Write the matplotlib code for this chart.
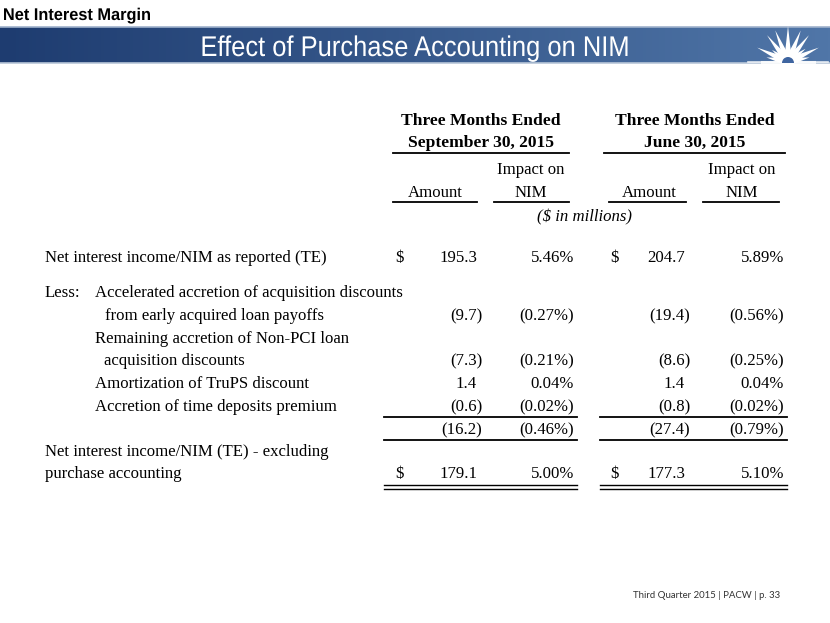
import numpy as np
import matplotlib
matplotlib.use("Agg")
import matplotlib.pyplot as plt
from matplotlib.patches import Polygon, Wedge, PathPatch
from matplotlib.textpath import TextPath
from matplotlib.font_manager import FontProperties
from matplotlib.transforms import Affine2D

# table data ($ in millions, NIM in %)
row_labels = [
    "Net interest income/NIM as reported (TE)",
    "from early acquired loan payoffs",
    "acquisition discounts",
    "Amortization of TruPS discount",
    "Accretion of time deposits premium",
    "",
    "purchase accounting",
]
sep_amount = [195.3, -9.7, -7.3, 1.4, -0.6, -16.2, 179.1]
sep_nim = [5.46, -0.27, -0.21, 0.04, -0.02, -0.46, 5.00]
jun_amount = [204.7, -19.4, -8.6, 1.4, -0.8, -27.4, 177.3]
jun_nim = [5.89, -0.56, -0.25, 0.04, -0.02, -0.79, 5.10]
dollar_rows = [0, 6]

W, H = 830, 623
fig = plt.figure(figsize=(W / 100, H / 100), dpi=100)
ax = fig.add_axes([0, 0, 1, 1])
ax.set_xlim(0, W)
ax.set_ylim(H, 0)
ax.axis("off")

SERIF = ["Liberation Serif", "DejaVu Serif"]


def narrow_text(s, x, baseline, size, width, color, weight="normal", anchor="left", z=3):
    # sans text squeezed to a given width (no narrow font installed)
    prop = FontProperties(family="Liberation Sans", weight=weight)
    tp = TextPath((0, 0), s, size=size, prop=prop)
    ext = tp.get_extents()
    sx = width / ext.width
    x0 = x - ext.x0 * sx if anchor == "left" else x - (ext.x0 + ext.width / 2) * sx
    tr = Affine2D().scale(sx, -1).translate(x0, baseline)
    ax.add_patch(PathPatch(tr.transform_path(tp), fc=color, ec="none", zorder=z))


# slide header
narrow_text("Net Interest Margin", 4, 20, 17, 146, "black", weight="bold")

# banner gradient
c0 = np.array([30, 60, 112]) / 255
c1 = np.array([80, 118, 168]) / 255
t = np.linspace(0, 1, 256)
grad = (c0[None, :] * (1 - t[:, None]) + c1[None, :] * t[:, None])[None, :, :]
ax.imshow(grad, extent=(0, W, 63, 27), aspect="auto", zorder=1)
ax.plot([0, W], [27, 27], color="#9fb2cc", lw=1.2, zorder=2)
ax.plot([0, W], [63, 63], color="#b8c6d8", lw=1.2, zorder=2)
narrow_text("Effect of Purchase Accounting on NIM", 415, 56, 28.5, 425, "white",
            anchor="center")

# logo starburst
cx, cy = 788, 62
angles = [168, 155, 143, 128, 112, 90, 68, 52, 37, 25, 12]
lengths = [22, 34, 20, 34, 34, 36, 34, 34, 22, 34, 22]
for a, L in zip(angles, lengths):
    r = np.deg2rad(a)
    ux, uy = np.cos(r), -np.sin(r)
    px, py = -uy, ux
    w = 4.0
    pts = [(cx + px * w, cy + py * w), (cx - px * w, cy - py * w),
           (cx + ux * L, cy + uy * L)]
    ax.add_patch(Polygon(pts, closed=True, fc="white", ec="none", zorder=4))
ax.add_patch(Wedge((cx, cy), 11, 180, 360, fc="white", ec="none", zorder=4))
ax.add_patch(Wedge((cx, cy + 1), 6, 180, 360, fc="#3f65a0", ec="none", zorder=5))
for i, (x0, x1) in enumerate([(748, 828), (762, 814)]):
    ax.plot([x0, x1], [cy, cy], color="white", lw=1.2 + i, alpha=0.85, zorder=4)

# column headers
hdr = dict(family=SERIF, fontweight="bold", fontsize=12.6, ha="center", va="center")
ax.text(481, 121, "Three Months Ended", **hdr)
ax.text(481, 143, "September 30, 2015", **hdr)
ax.text(695, 121, "Three Months Ended", **hdr)
ax.text(695, 143, "June 30, 2015", **hdr)
ax.plot([393, 569], [153, 153], color="black", lw=1.3)
ax.plot([604, 785], [153, 153], color="black", lw=1.3)

body = dict(family=SERIF, fontsize=12.1, va="center", color="black")
ax.text(435, 193, "Amount", ha="center", **body)
ax.text(531, 170, "Impact on", ha="center", **body)
ax.text(531, 193, "NIM", ha="center", **body)
ax.text(649, 193, "Amount", ha="center", **body)
ax.text(742, 170, "Impact on", ha="center", **body)
ax.text(742, 193, "NIM", ha="center", **body)
for x0, x1 in [(393, 477), (494, 569), (609, 686), (703, 779)]:
    ax.plot([x0, x1], [202, 202], color="black", lw=1.3)
ax.text(584, 217, "($ in millions)", ha="center", style="italic", **body)

# row labels
row_y = [258, 316, 361, 384, 407, 430, 474]
ax.text(45, 293, "Less:", ha="left", **body)
ax.text(95, 293, "Accelerated accretion of acquisition discounts", ha="left", **body)
ax.text(95, 339, "Remaining accretion of Non-PCI loan", ha="left", **body)
ax.text(45, 452, "Net interest income/NIM (TE) - excluding", ha="left", **body)
label_x = [45, 105, 104, 95, 95, 45, 45]
for lab, x, y in zip(row_labels, label_x, row_y):
    if lab:
        ax.text(x, y, lab, ha="left", **body)


def fmt_amt(v):
    return f"({abs(v):.1f})" if v < 0 else f"{v:.1f}"


def fmt_pct(v):
    return f"({abs(v):.2f}%)" if v < 0 else f"{v:.2f}%"


groups = [(sep_amount, sep_nim, 395, 477, 574),
          (jun_amount, jun_nim, 610, 685, 784)]
for amts, nims, xd, xa, xp in groups:
    for i, (a, n, y) in enumerate(zip(amts, nims, row_y)):
        ax.text(xa + (5 if a < 0 else 0), y, fmt_amt(a), ha="right", **body)
        ax.text(xp, y, fmt_pct(n), ha="right", **body)
        if i in dollar_rows:
            ax.text(xd, y, "$", ha="left", **body)

# rules under the rows
for x0, x1 in [(384, 577), (600, 787)]:
    ax.plot([x0, x1], [417, 417], color="black", lw=1.3)
    ax.plot([x0, x1], [439.5, 439.5], color="black", lw=1.3)
    ax.plot([x0, x1], [485, 485], color="black", lw=1.0)
    ax.plot([x0, x1], [488.5, 488.5], color="black", lw=1.0)

# footer
ax.text(707, 596, "Third Quarter 2015 | PACW | p. 33", family=["Lato", "DejaVu Sans"],
        fontsize=6.9, color="#333333", ha="center", va="center")

fig.savefig("out.png", dpi=100)
